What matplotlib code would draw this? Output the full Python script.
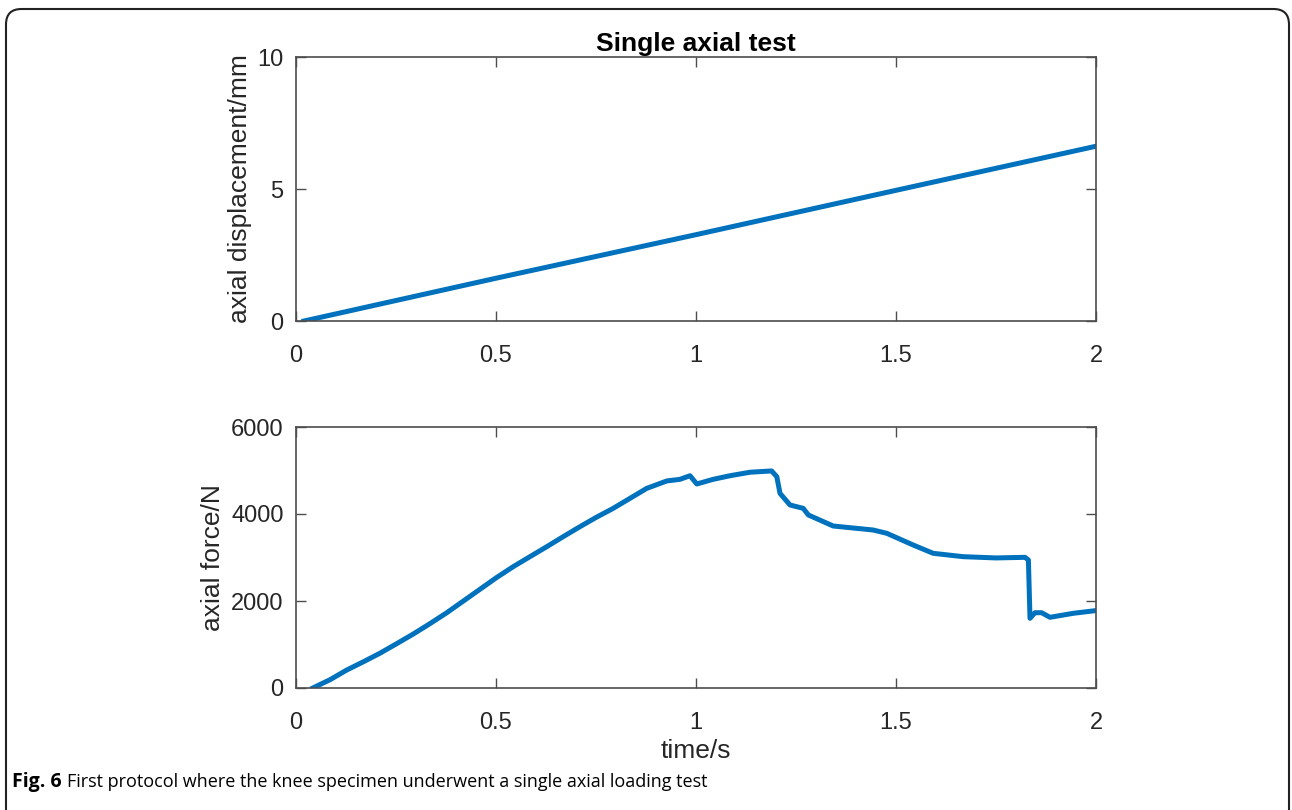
import matplotlib.pyplot as plt
from matplotlib.patches import FancyBboxPatch

# displacement test data
t_disp = [0.02, 0.5, 1.0, 1.5, 2.0]
disp = [0.0, 1.62, 3.27, 4.95, 6.62]

# force data
t_force = [0.042, 0.085, 0.127, 0.17, 0.21, 0.25, 0.293, 0.335, 0.377, 0.42, 0.46,
           0.5, 0.543, 0.585, 0.627, 0.67, 0.71, 0.75, 0.793, 0.835,
           0.877, 0.927, 0.96, 0.985, 1.002, 1.043, 1.085, 1.135, 1.189, 1.202,
           1.21, 1.235, 1.268, 1.281, 1.343, 1.443, 1.477, 1.543, 1.593, 1.668,
           1.75, 1.8225, 1.831, 1.835, 1.8475, 1.864, 1.885, 1.943, 1.9975]
force = [0, 190, 414, 610, 800, 1010, 1240, 1480, 1731, 2010, 2270,
         2530, 2789, 3020, 3249, 3490, 3709, 3920, 4130, 4360,
         4590, 4760, 4797, 4880, 4690, 4797, 4880, 4960, 4990, 4858,
         4475, 4207, 4130, 3977, 3724, 3632, 3556, 3287, 3096, 3019,
         2990, 3004, 2943, 1602, 1731, 1731, 1625, 1717, 1777]

blue = '#0072BD'
spine_col = '#4d4d4d'
plt.rcParams['font.family'] = ['Liberation Sans', 'DejaVu Sans']

fig = plt.figure(figsize=(12.92, 8.10), dpi=100)

# outer rounded frame
frame = FancyBboxPatch((6 / 1292, -0.05), 1283 / 1292, 1.05 - 9 / 810,
                       boxstyle='round,pad=0,rounding_size=0.012',
                       transform=fig.transFigure, fill=False,
                       edgecolor='#222222', linewidth=1.5, mutation_aspect=1292 / 810)
fig.patches.append(frame)

ax1 = fig.add_axes([296 / 1292, 1 - 321 / 810, 800 / 1292, 264 / 810])
ax2 = fig.add_axes([296 / 1292, 1 - 688 / 810, 800 / 1292, 261 / 810])

ax1.plot(t_disp, disp, color=blue, linewidth=3.6)
ax1.set_xlim(0, 2)
ax1.set_ylim(0, 10)
ax1.set_xticks([0, 0.5, 1, 1.5, 2])
ax1.set_xticklabels(['0', '0.5', '1', '1.5', '2'])
ax1.set_yticks([0, 5, 10])
ax1.set_ylabel('axial displacement/mm', fontsize=19, color='#262626')
ax1.set_title('Single axial test', fontsize=19, fontweight='bold', pad=4)

ax2.plot(t_force, force, color=blue, linewidth=3.6)
ax2.set_xlim(0, 2)
ax2.set_ylim(0, 6000)
ax2.set_xticks([0, 0.5, 1, 1.5, 2])
ax2.set_xticklabels(['0', '0.5', '1', '1.5', '2'])
ax2.set_yticks([0, 2000, 4000, 6000])
ax2.set_ylabel('axial force/N', fontsize=19, color='#262626')
ax2.set_xlabel('time/s', fontsize=19, color='#262626', labelpad=4)

for ax in (ax1, ax2):
    for s in ax.spines.values():
        s.set_color(spine_col)
        s.set_linewidth(1.2)
    ax.tick_params(direction='in', top=True, right=True, length=7, width=1,
                   color=spine_col, labelsize=17, labelcolor='#262626')
    ax.tick_params(axis='x', pad=17)
    ax.tick_params(axis='y', pad=9)

cap_y = 1 - 782 / 810
fig.text(12 / 1292, cap_y, 'Fig. 6', fontsize=14, va='center', fontweight='bold',
         family=['Open Sans', 'DejaVu Sans'])
fig.text(67 / 1292, cap_y,
         'First protocol where the knee specimen underwent a single axial loading test',
         fontsize=13, va='center', family=['Open Sans', 'DejaVu Sans'])

fig.savefig('out.png', dpi=100)
